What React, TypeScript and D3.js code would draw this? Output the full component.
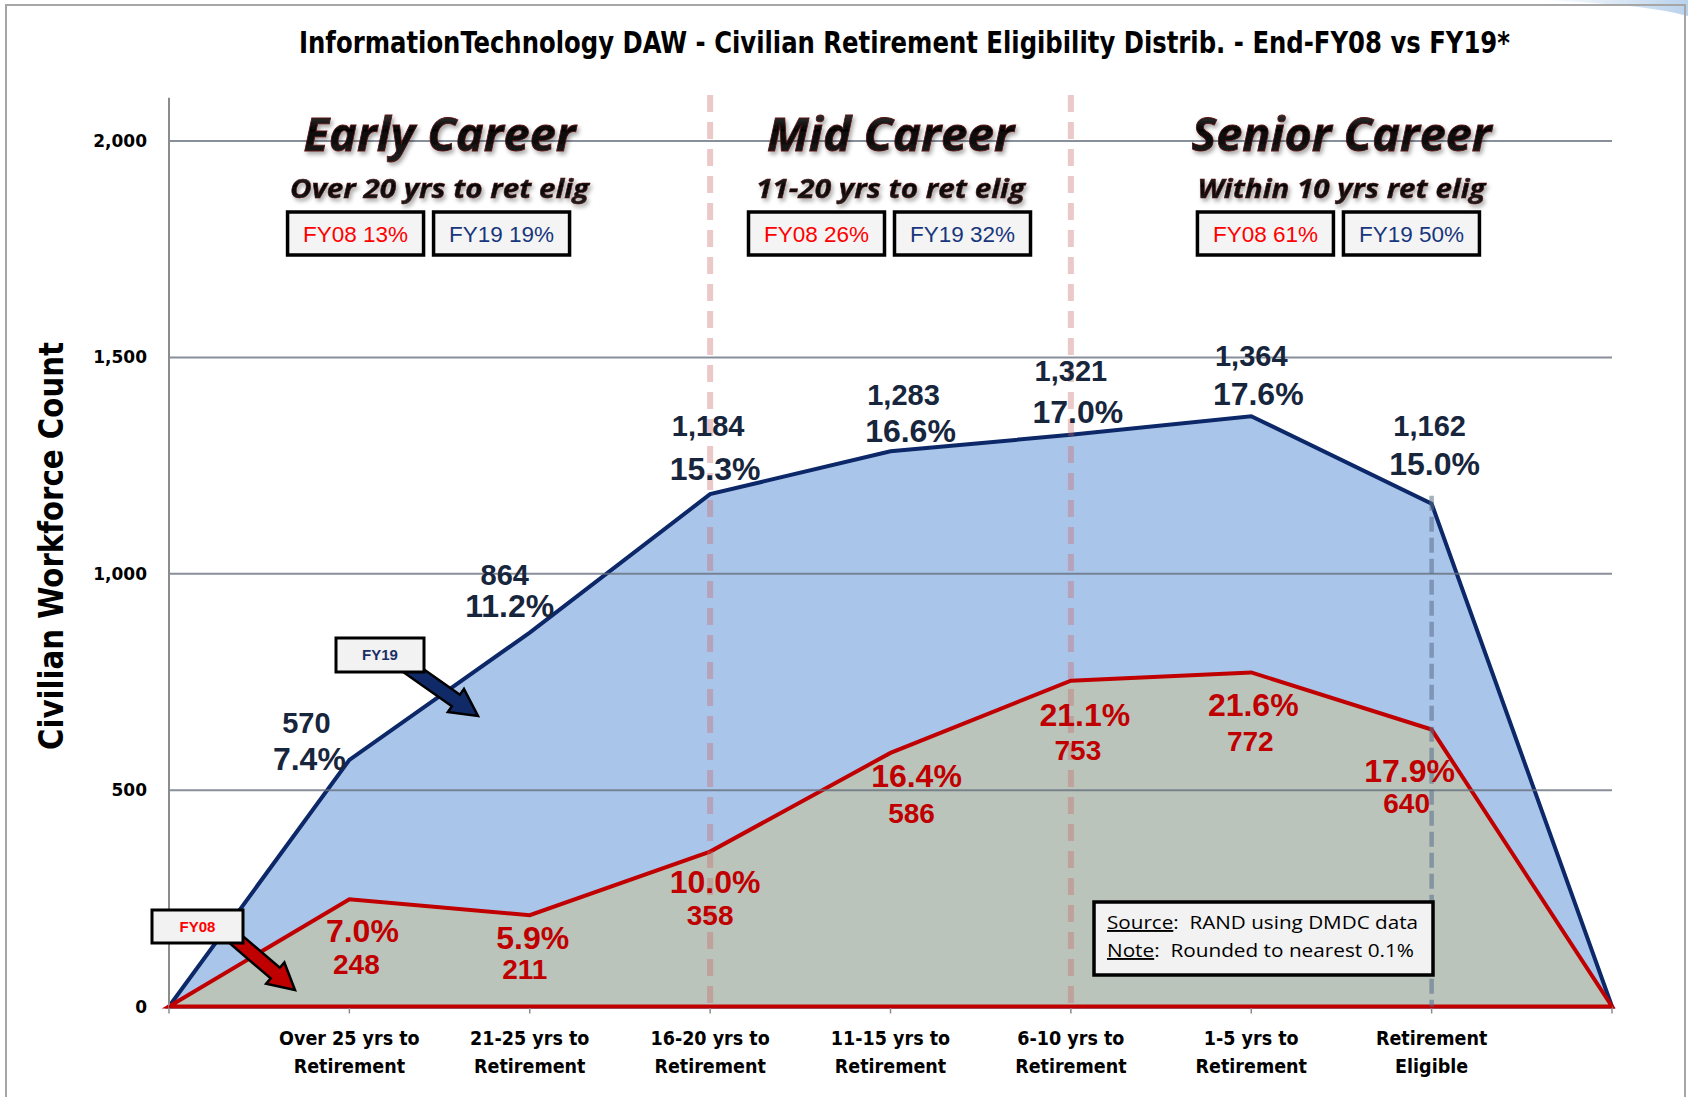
import React from 'react';
import * as d3 from 'd3';

// categories (two-line tick labels)
const categories: string[][] = [
  ['Over 25 yrs to', 'Retirement'],
  ['21-25 yrs to', 'Retirement'],
  ['16-20 yrs to', 'Retirement'],
  ['11-15 yrs to', 'Retirement'],
  ['6-10 yrs to', 'Retirement'],
  ['1-5 yrs to', 'Retirement'],
  ['Retirement', 'Eligible'],
];

const fy19Counts = [570, 864, 1184, 1283, 1321, 1364, 1162];
const fy19Pct = ['7.4%', '11.2%', '15.3%', '16.6%', '17.0%', '17.6%', '15.0%'];
const fy08Counts = [248, 211, 358, 586, 753, 772, 640];
const fy08Pct = ['7.0%', '5.9%', '10.0%', '16.4%', '21.1%', '21.6%', '17.9%'];

const yTicks = [0, 500, 1000, 1500, 2000];

const sectionTitles = ['Early Career', 'Mid Career', 'Senior Career'];
const sectionSubs = ['Over 20 yrs to ret elig', '11-20 yrs to ret elig', 'Within 10 yrs ret elig'];
const sectionFy08 = ['FY08 13%', 'FY08 26%', 'FY08 61%'];
const sectionFy19 = ['FY19 19%', 'FY19 32%', 'FY19 50%'];
// section bounds in x-index units (0 = origin, 1..7 categories, 8 = end)
const sectionBounds = [[0, 3], [3, 5], [5, 8]];

const title = 'InformationTechnology DAW - Civilian Retirement Eligibility Distrib. - End-FY08 vs FY19*';

// label placement tweaks (pixel offsets from the point: [countDx, countDy, pctDx, pctDy])
const fy19LabelOff = [
  [-43, -37, -40, -1],
  [-25, -58, -20, -27],
  [-2, -68, 5, -25],
  [13, -56, 20, -20],
  [0, -64, 7, -23],
  [0, -60, 7, -22],
  [-2, -78, 3, -40],
];
const fy08LabelOff = [
  [13, 32, 7, 65],
  [3, 23, -5, 54],
  [5, 30, 0, 64],
  [26, 23, 21, 60],
  [14, 34, 7, 70],
  [2, 32, -1, 69],
  [-22, 41, -25, 74],
];
const titleLen = [272, 247, 300];
const subLen = [299, 269, 288];
const boxShift = [-11, -1, -3];

const NAVY = '#0c2868';
const RED = '#c00000';
const LABEL_NAVY = '#17263d';
const NARROW = '"Liberation Sans Narrow", "DejaVu Sans Condensed", "Open Sans", sans-serif';
const ARIAL = '"Liberation Sans", Arial, sans-serif';

function arrowPoints(x1: number, y1: number, x2: number, y2: number, shaft: number, head: number, headLen: number) {
  const dx = x2 - x1;
  const dy = y2 - y1;
  const len = Math.sqrt(dx * dx + dy * dy);
  const ux = dx / len;
  const uy = dy / len;
  const nx = -uy;
  const ny = ux;
  const bx = x2 - ux * headLen;
  const by = y2 - uy * headLen;
  const pts = [
    [x1 + nx * shaft, y1 + ny * shaft],
    [bx + nx * shaft, by + ny * shaft],
    [bx + nx * head, by + ny * head],
    [x2, y2],
    [bx - nx * head, by - ny * head],
    [bx - nx * shaft, by - ny * shaft],
    [x1 - nx * shaft, y1 - ny * shaft],
  ];
  return pts.map((p) => p.join(',')).join(' ');
}

const App: React.FC = () => {
  const width = 1688;
  const height = 1097;
  const left = 169;
  const right = 1612;
  const bottom = 1006.5;

  const x = d3.scaleLinear().domain([0, 8]).range([left, right]);
  const y = d3.scaleLinear().domain([0, 2000]).range([bottom, 141]);
  const yTop = y(2100);

  const fy19Series = [0, ...fy19Counts, 0];
  const fy08Series = [0, ...fy08Counts, 0];

  const area = d3
    .area<number>()
    .x((_, i) => x(i))
    .y0(y(0))
    .y1((d) => y(d));

  const fmt = d3.format(',');

  return (
    <svg
      width={width}
      height={height}
      style={{ position: 'absolute', left: 0, top: 0, display: 'block', background: '#fff' }}
    >
      <defs>
        <filter id="hshadow" x="-10%" y="-30%" width="120%" height="170%">
          <feDropShadow dx="2" dy="3" stdDeviation="2" floodColor="#000" floodOpacity="0.35" />
        </filter>
        <linearGradient id="gloss" x1="0" y1="0" x2="0" y2="1">
          <stop offset="0" stopColor="#555" />
          <stop offset="0.45" stopColor="#050505" />
          <stop offset="1" stopColor="#222" />
        </linearGradient>
        <linearGradient id="corner" x1="0" y1="0" x2="1" y2="0">
          <stop offset="0" stopColor="#ffffff" />
          <stop offset="1" stopColor="#b9d2ec" />
        </linearGradient>
      </defs>

      {/* slide frame */}
      <path d="M1540,0 L1688,0 L1688,16 C1650,6 1600,3 1540,0 Z" fill="url(#corner)" />
      <rect x={6} y={5} width={1679} height={1100} fill="none" stroke="#a6a6a6" strokeWidth={2} />

      {/* title */}
      <text
        x={904.5}
        y={53}
        textAnchor="middle"
        fontFamily={NARROW}
        fontWeight="bold"
        fontSize={30}
        textLength={1211}
        lengthAdjust="spacingAndGlyphs"
      >
        {title}
      </text>

      {/* y axis title */}
      <text
        transform="translate(63,546) rotate(-90)"
        textAnchor="middle"
        fontFamily={NARROW}
        fontWeight="bold"
        fontSize={34}
        textLength={408}
        lengthAdjust="spacingAndGlyphs"
      >
        Civilian Workforce Count
      </text>

      {/* y tick labels */}
      {yTicks.map((t) => (
        <text
          key={t}
          x={147}
          y={y(t)}
          dy="0.36em"
          textAnchor="end"
          fontFamily='"DejaVu Sans", Verdana, sans-serif'
          fontWeight="bold"
          fontSize={17}
        >
          {fmt(t)}
        </text>
      ))}

      {/* areas */}
      <path d={area(fy19Series) || ''} fill="#aac5ea" stroke={NAVY} strokeWidth={4} strokeLinejoin="miter" />
      <path d={area(fy08Series) || ''} fill="#bac4ba" stroke={RED} strokeWidth={4} strokeLinejoin="miter" />

      {/* gridlines on top */}
      {yTicks
        .filter((t) => t > 0)
        .map((t) => (
          <line key={t} x1={left} x2={right} y1={y(t)} y2={y(t)} stroke="#66707e" strokeOpacity={0.78} strokeWidth={2} />
        ))}

      {/* axes */}
      <line x1={left} x2={left} y1={yTop} y2={bottom} stroke="#8c8c8c" strokeWidth={2} />
      {d3.range(0, 9).map((i) => (
        <line key={i} x1={x(i)} x2={x(i)} y1={bottom} y2={bottom + 7} stroke="#8c8c8c" strokeWidth={1.5} />
      ))}
      <line x1={left} x2={right} y1={bottom} y2={bottom} stroke={RED} strokeWidth={3} />

      {/* career divider lines */}
      {[3, 5].map((i) => (
        <line
          key={i}
          x1={x(i)}
          x2={x(i)}
          y1={95}
          y2={bottom}
          stroke="#c86464"
          strokeOpacity={0.35}
          strokeWidth={6}
          strokeDasharray="17,10"
        />
      ))}
      <line
        x1={x(7)}
        x2={x(7)}
        y1={y(fy19Counts[6]) - 8}
        y2={bottom}
        stroke="#5a6e8c"
        strokeOpacity={0.55}
        strokeWidth={4.5}
        strokeDasharray="15,6"
      />

      {/* x tick labels */}
      {categories.map((c, i) => (
        <text key={i} textAnchor="middle" fontFamily={NARROW} fontWeight="bold" fontSize={19.5}>
          <tspan x={x(i + 1)} y={1045}>
            {c[0]}
          </tspan>
          <tspan x={x(i + 1)} y={1073}>
            {c[1]}
          </tspan>
        </text>
      ))}

      {/* section headers */}
      {sectionTitles.map((s, k) => {
        const mid = (x(sectionBounds[k][0]) + x(sectionBounds[k][1])) / 2;
        const bc = mid + boxShift[k];
        return (
          <g key={s}>
            <text
              x={mid}
              y={151}
              textAnchor="middle"
              fontFamily='"Open Sans", "DejaVu Sans", sans-serif'
              fontStyle="italic"
              fontWeight="bold"
              fontSize={46}
              textLength={titleLen[k]}
              lengthAdjust="spacingAndGlyphs"
              fill="url(#gloss)"
              stroke="#5a1212"
              strokeWidth={0.8}
              filter="url(#hshadow)"
            >
              {s}
            </text>
            <text
              x={mid}
              y={198}
              textAnchor="middle"
              fontFamily='"Open Sans", "DejaVu Sans", sans-serif'
              fontStyle="italic"
              fontWeight="bold"
              fontSize={27}
              textLength={subLen[k]}
              lengthAdjust="spacingAndGlyphs"
              fill="url(#gloss)"
              stroke="#5a1212"
              strokeWidth={0.5}
              filter="url(#hshadow)"
            >
              {sectionSubs[k]}
            </text>
            <rect x={bc - 141} y={212} width={136} height={43} fill="#f4f4f4" stroke="#000" strokeWidth={3.5} />
            <rect x={bc + 5} y={212} width={136} height={43} fill="#f4f4f4" stroke="#000" strokeWidth={3.5} />
            <text x={bc - 73} y={241.5} textAnchor="middle" fontFamily={ARIAL} fontSize={22.5} fill="#ff0000">
              {sectionFy08[k]}
            </text>
            <text x={bc + 73} y={241.5} textAnchor="middle" fontFamily={ARIAL} fontSize={22.5} fill="#17367d">
              {sectionFy19[k]}
            </text>
          </g>
        );
      })}

      {/* FY19 data labels */}
      {fy19Counts.map((v, i) => {
        const px = x(i + 1);
        const py = y(v);
        const o = fy19LabelOff[i];
        return (
          <g key={i} fontFamily={ARIAL} fontWeight="bold" fill={LABEL_NAVY} textAnchor="middle">
            <text x={px + o[0]} y={py + o[1]} dy="0.35em" fontSize={29}>
              {fmt(v)}
            </text>
            <text x={px + o[2]} y={py + o[3]} dy="0.35em" fontSize={32}>
              {fy19Pct[i]}
            </text>
          </g>
        );
      })}

      {/* FY08 data labels */}
      {fy08Counts.map((v, i) => {
        const px = x(i + 1);
        const py = y(v);
        const o = fy08LabelOff[i];
        return (
          <g key={i} fontFamily={ARIAL} fontWeight="bold" fill={RED} textAnchor="middle">
            <text x={px + o[0]} y={py + o[1]} dy="0.35em" fontSize={32}>
              {fy08Pct[i]}
            </text>
            <text x={px + o[2]} y={py + o[3]} dy="0.35em" fontSize={28}>
              {fmt(v)}
            </text>
          </g>
        );
      })}

      {/* series callouts */}
      <polygon points={arrowPoints(404, 664, 478, 716, 7, 14, 27)} fill="#0f2a66" stroke="#000" strokeWidth={2.5} />
      <rect x={336} y={638} width={88} height={34} fill="#f2f2f2" stroke="#000" strokeWidth={3} />
      <text x={380} y={660} textAnchor="middle" fontFamily={ARIAL} fontWeight="bold" fontSize={15} fill="#1a2f66">
        FY19
      </text>

      <polygon points={arrowPoints(232, 936, 295, 990, 7, 14, 26)} fill={RED} stroke="#000" strokeWidth={2.5} />
      <rect x={152} y={910} width={91} height={33} fill="#f2f2f2" stroke="#000" strokeWidth={3} />
      <text x={197.5} y={932} textAnchor="middle" fontFamily={ARIAL} fontWeight="bold" fontSize={15} fill="#ff0000">
        FY08
      </text>

      {/* source note */}
      <rect x={1094} y={902} width={339} height={73} fill="#f2f2f2" stroke="#000" strokeWidth={3.5} />
      <text
        x={1107}
        y={929}
        fontFamily='"Open Sans", "Liberation Sans", sans-serif'
        fontSize={19}
        textLength={311}
        lengthAdjust="spacingAndGlyphs"
      >
        <tspan textDecoration="underline">Source</tspan>
        {':\u00a0 RAND using DMDC data'}
      </text>
      <text
        x={1107}
        y={957}
        fontFamily='"Open Sans", "Liberation Sans", sans-serif'
        fontSize={19}
        textLength={307}
        lengthAdjust="spacingAndGlyphs"
      >
        <tspan textDecoration="underline">Note</tspan>
        {':\u00a0 Rounded to nearest 0.1%'}
      </text>
    </svg>
  );
};

export default App;
